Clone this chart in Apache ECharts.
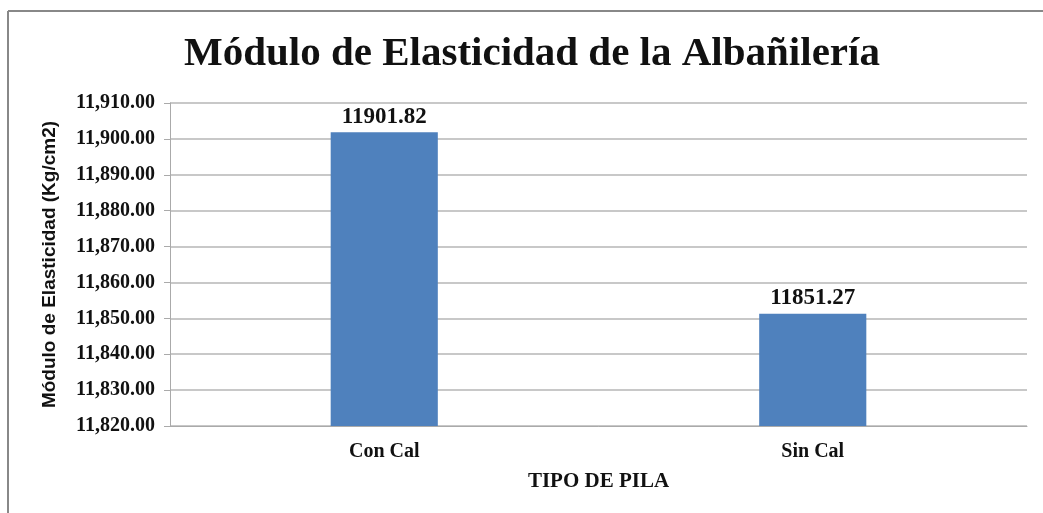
<!DOCTYPE html>
<html>
<head>
<meta charset="utf-8">
<script src="https://cdn.jsdelivr.net/npm/echarts@6/dist/echarts.min.js"></script>
<style>
  html, body { margin: 0; padding: 0; background: #fff; }
  #chart { width: 1043px; height: 513px; }
</style>
</head>
<body>
<div id="chart"></div>
<script>
var categories = ['Con Cal', 'Sin Cal'];
var values = [11901.82, 11851.27];
var yMin = 11820, yMax = 11910, yStep = 10;

var chart = echarts.init(document.getElementById('chart'));

var serif = '"Liberation Serif", "DejaVu Serif", serif';

var option = {
  animation: false,
  backgroundColor: '#fff',
  title: {
    text: 'Módulo de Elasticidad de la Albañilería',
    left: 179,
    top: 29,
    textStyle: { fontFamily: serif, fontWeight: 'bold', fontSize: 41, color: '#111' }
  },
  graphic: [
    { type: 'line', shape: { x1: 8, y1: 11, x2: 1043, y2: 11 }, style: { stroke: '#888', lineWidth: 2 } },
    { type: 'line', shape: { x1: 8, y1: 11, x2: 8, y2: 513 }, style: { stroke: '#888', lineWidth: 2 } }
  ],
  grid: { left: 170, right: 16, top: 103, bottom: 87, containLabel: false },
  xAxis: {
    type: 'category',
    data: categories,
    name: 'TIPO DE PILA',
    nameLocation: 'middle',
    nameGap: 45,
    nameTextStyle: { fontFamily: serif, fontWeight: 'bold', fontSize: 21, color: '#111' },
    axisLine: { lineStyle: { color: '#aaa' } },
    axisTick: { show: false },
    axisLabel: { fontFamily: serif, fontWeight: 'bold', fontSize: 20, color: '#111', margin: 16 }
  },
  yAxis: {
    type: 'value',
    min: yMin,
    max: yMax,
    interval: yStep,
    name: 'Módulo de Elasticidad (Kg/cm2)',
    nameLocation: 'middle',
    nameGap: 111,
    nameTextStyle: { fontFamily: '"Liberation Sans", Arial, sans-serif', fontWeight: 'bold', fontSize: 19, color: '#111' },
    axisLine: { show: true, lineStyle: { color: '#aaa' } },
    axisTick: { show: true, length: 6, lineStyle: { color: '#aaa' } },
    splitLine: { lineStyle: { color: '#c8c8c8', width: 2 } },
    axisLabel: {
      fontFamily: serif, fontWeight: 'bold', fontSize: 20, color: '#111', margin: 15,
      formatter: function (v) {
        return v.toLocaleString('en-US', { minimumFractionDigits: 2, maximumFractionDigits: 2 });
      }
    }
  },
  series: [{
    type: 'bar',
    data: values,
    barWidth: '25%',
    itemStyle: { color: '#4f81bd' },
    label: {
      show: true,
      position: 'top',
      distance: 4,
      fontFamily: serif, fontWeight: 'bold', fontSize: 23, color: '#111',
      formatter: function (p) { return p.value.toFixed(2); }
    }
  }]
};

chart.setOption(option);
</script>
</body>
</html>
